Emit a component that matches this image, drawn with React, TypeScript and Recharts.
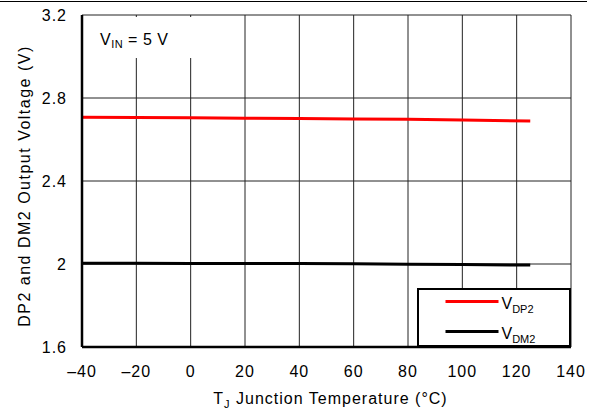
import { LineChart, Line, XAxis, YAxis, CartesianGrid, Legend, Label } from 'recharts';

// junction temperature sweep (°C) and the two output voltages (V)
const temps = [-40, -20, 0, 20, 40, 60, 80, 100, 125];
const vdp2 = [2.707, 2.706, 2.705, 2.703, 2.701, 2.699, 2.697, 2.694, 2.689];
const vdm2 = [2.004, 2.004, 2.003, 2.003, 2.002, 2.001, 1.999, 1.997, 1.995];

const xTicks = [-40, -20, 0, 20, 40, 60, 80, 100, 120, 140];
const yTicks = [1.6, 2, 2.4, 2.8, 3.2];

const series = [
  { key: 'vdp2', sub: 'DP2', color: '#ff0000' },
  { key: 'vdm2', sub: 'DM2', color: '#000000' },
];

const data = temps.map((t, i) => ({ t, vdp2: vdp2[i], vdm2: vdm2[i] }));

const FONT = '"Liberation Sans", Arial, Helvetica, sans-serif';
const tickStyle = { fill: '#000', fontSize: 16, fontFamily: FONT, letterSpacing: 1 };

const fmtX = (v: number) => (v < 0 ? `\u2013${-v}` : `${v}`);

// legend box keeps the series order (recharts sorts its payload)
const renderLegend = () => (
  <div
    style={{
      width: 154,
      height: 59,
      boxSizing: 'border-box',
      border: '2.5px solid #000',
      background: '#fff',
    }}
  >
    <svg width={149} height={54} style={{ display: 'block' }}>
      {series.map((s, i) => {
        const y = 11.5 + i * 30;
        return (
          <g key={s.key}>
            <line x1={26.5} x2={79.5} y1={y} y2={y} stroke={s.color} strokeWidth={3} />
            <text x={82.5} y={y + 7} fontSize={16} fontFamily={FONT} fill="#000">
              V
              <tspan fontSize={11} dy={4}>
                {s.sub}
              </tspan>
            </text>
          </g>
        );
      })}
    </svg>
  </div>
);

export default function App() {
  return (
    <div style={{ position: 'absolute', left: 0, top: 0, width: 597, height: 410, background: '#fff' }}>
      <div style={{ position: 'absolute', left: 0, top: 1, width: 587, borderTop: '1.5px solid #000' }} />
      <LineChart
        width={597}
        height={410}
        data={data}
        margin={{ top: 15, right: 26, bottom: 13, left: 22 }}
      >
        <CartesianGrid stroke="#222" strokeWidth={1} />
        <XAxis
          dataKey="t"
          type="number"
          domain={[-40, 140]}
          ticks={xTicks}
          tickFormatter={fmtX}
          height={50}
          tickLine={false}
          tickMargin={13}
          axisLine={{ stroke: '#000', strokeWidth: 2.5 }}
          tick={tickStyle}
          interval={0}
        >
          <Label
            content={(p: any) => {
              const vb = p.viewBox;
              return (
                <text
                  x={vb.x + vb.width / 2 + 4}
                  y={vb.y + 57}
                  textAnchor="middle"
                  fontSize={16}
                  fontFamily={FONT}
                  letterSpacing={1}
                  fill="#000"
                >
                  T
                  <tspan fontSize={11} dy={4}>J</tspan>
                  <tspan dy={-4}> Junction Temperature (°C)</tspan>
                </text>
              );
            }}
          />
        </XAxis>
        <XAxis
          xAxisId="top"
          orientation="top"
          type="number"
          domain={[-40, 140]}
          height={0}
          tick={false}
          tickLine={false}
          axisLine={{ stroke: '#000', strokeWidth: 2.5 }}
        />
        <YAxis
          type="number"
          domain={[1.6, 3.2]}
          ticks={yTicks}
          width={60}
          tickLine={false}
          tickMargin={9}
          axisLine={{ stroke: '#000', strokeWidth: 2.5 }}
          tick={tickStyle}
          interval={0}
        >
          <Label
            content={(p: any) => {
              const vb = p.viewBox;
              const cx = vb.x + 8;
              const cy = vb.y + vb.height / 2 + 5;
              return (
                <text
                  x={cx}
                  y={cy}
                  transform={`rotate(-90, ${cx}, ${cy})`}
                  textAnchor="middle"
                  fontSize={16}
                  fontFamily={FONT}
                  letterSpacing={1.5}
                  fill="#000"
                >
                  DP2 and DM2 Output Voltage (V)
                </text>
              );
            }}
          />
        </YAxis>
        <YAxis
          yAxisId="right"
          orientation="right"
          type="number"
          domain={[1.6, 3.2]}
          width={0}
          tick={false}
          tickLine={false}
          axisLine={{ stroke: '#000', strokeWidth: 2.5 }}
        />
        {series.map((s) => (
          <Line
            key={s.key}
            dataKey={s.key}
            name={`V${s.sub}`}
            stroke={s.color}
            strokeWidth={3}
            dot={false}
            activeDot={false}
            isAnimationActive={false}
          />
        ))}
        <Legend
          layout="vertical"
          align="center"
          verticalAlign="middle"
          content={renderLegend}
          wrapperStyle={{ position: 'absolute', left: 417, top: 288, width: 154, height: 59 }}
        />
      </LineChart>
      <svg
        width={118}
        height={41}
        style={{ position: 'absolute', left: 84, top: 17, display: 'block' }}
      >
        <rect x={0} y={0} width={118} height={41} fill="#fff" />
        <text x={16} y={27.5} fontSize={16} fontFamily={FONT} letterSpacing={0.5} fill="#000">
          V
          <tspan fontSize={11} dy={3}>IN</tspan>
          <tspan dy={-3}> = 5 V</tspan>
        </text>
      </svg>
    </div>
  );
}
